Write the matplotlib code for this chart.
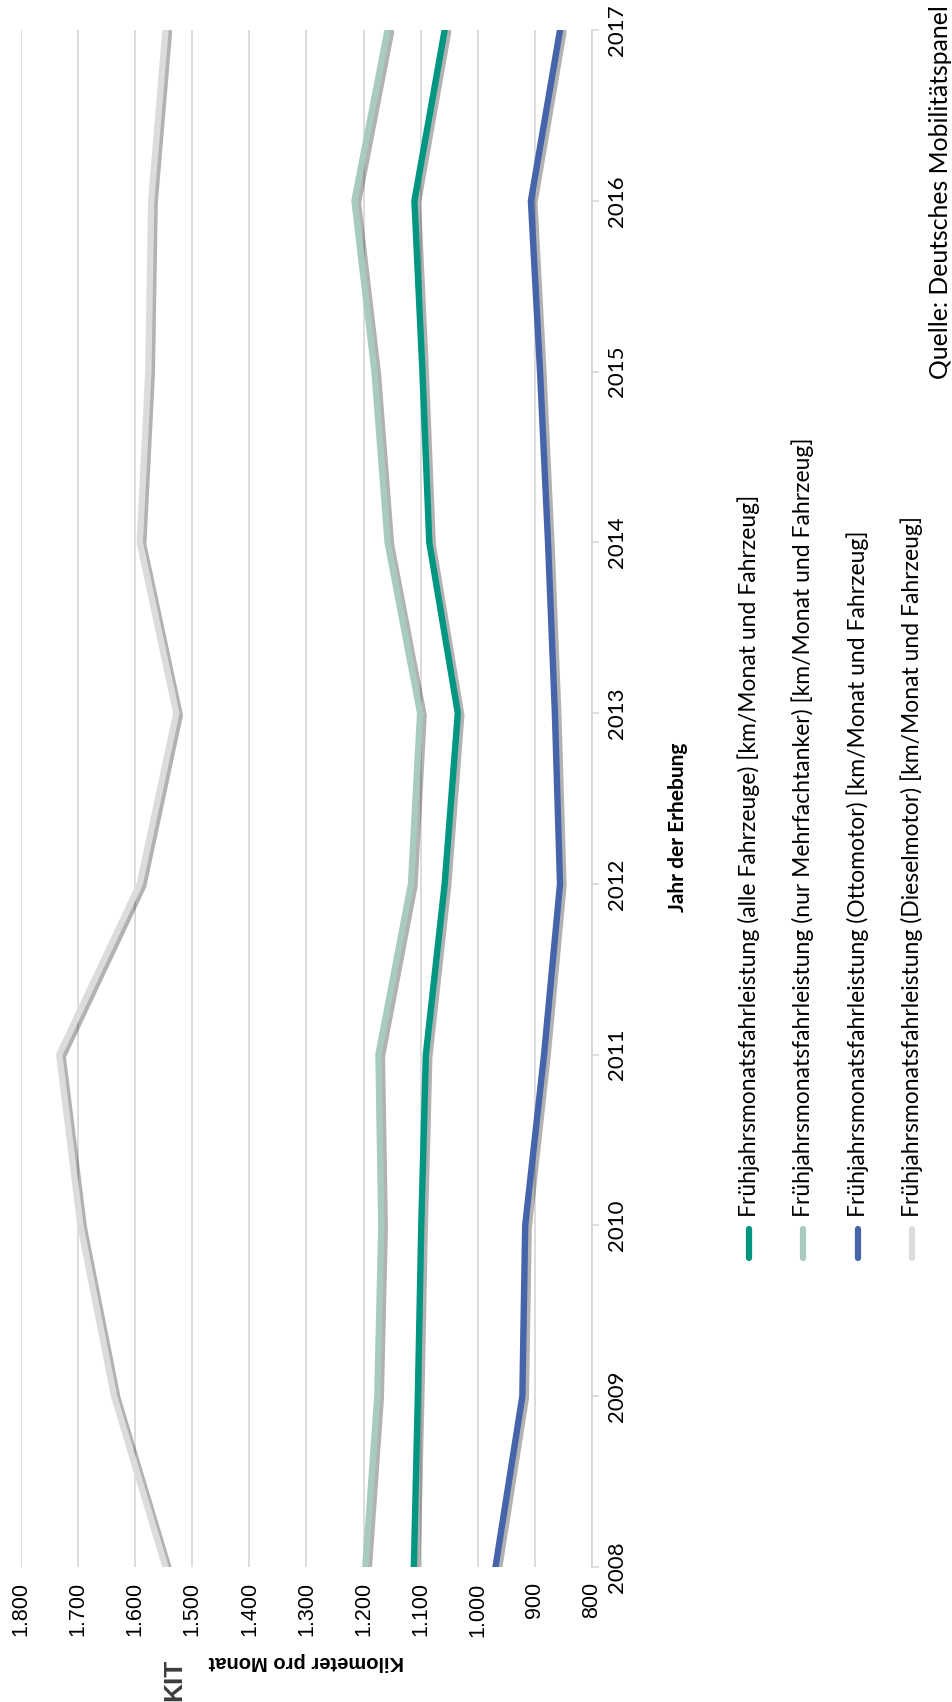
import matplotlib.pyplot as plt
import matplotlib.patheffects as pe
from matplotlib.lines import Line2D

years = [2008, 2009, 2010, 2011, 2012, 2013, 2014, 2015, 2016, 2017]
alle = [1112, 1105, 1099, 1091, 1058, 1035, 1085, 1097, 1111, 1058]
mehrfach = [1197, 1176, 1169, 1174, 1117, 1101, 1158, 1181, 1216, 1158]
otto = [969, 922, 917, 884, 856, 865, 877, 891, 907, 856]
diesel = [1547, 1637, 1696, 1733, 1592, 1528, 1592, 1577, 1572, 1547]

series_names = [
    "Frühjahrsmonatsfahrleistung (alle Fahrzeuge) [km/Monat und Fahrzeug]",
    "Frühjahrsmonatsfahrleistung (nur Mehrfachtanker) [km/Monat und Fahrzeug]",
    "Frühjahrsmonatsfahrleistung (Ottomotor) [km/Monat und Fahrzeug]",
    "Frühjahrsmonatsfahrleistung (Dieselmotor) [km/Monat und Fahrzeug]",
]
colors = ["#009682", "#a8cbbf", "#4664aa", "#dcdcdc"]

value_ticks = [800, 900, 1000, 1100, 1200, 1300, 1400, 1500, 1600, 1700, 1800]
value_labels = ["800", "900", "1.000", "1.100", "1.200", "1.300",
                "1.400", "1.500", "1.600", "1.700", "1.800"]
year_labels = [str(y) for y in years]

W, H = 952, 1702
fig = plt.figure(figsize=(W / 100, H / 100), dpi=100)
# chart is drawn turned by 90 degrees: values run right -> left, years bottom -> top
ax = fig.add_axes([21 / W, (H - 1567) / H, 571 / W, 1537 / H])

shadow = [pe.SimpleLineShadow(offset=(2.5, -1.5), shadow_color="black", alpha=0.3), pe.Normal()]
for vals, col in zip([diesel, otto, mehrfach, alle], [colors[3], colors[2], colors[1], colors[0]]):
    ax.plot(vals, years, color=col, lw=4.6, solid_capstyle="round", zorder=3, path_effects=shadow)

ax.set_xlim(1800, 800)
ax.set_ylim(2008, 2017)

ax.set_xticks(value_ticks)
ax.set_xticklabels(value_labels, rotation=90, family="Liberation Sans", fontsize=15.5, color="#000000")
ax.tick_params(axis="x", length=0, pad=11)
ax.xaxis.grid(True, color="#d9d9d9", lw=1.3, zorder=0)
ax.set_axisbelow(True)

ax.yaxis.tick_right()
ax.set_yticks(years)
ax.set_yticklabels(year_labels, rotation=90, family="Lato", fontsize=16, va="center")
ax.tick_params(axis="y", direction="out", length=5, width=1.2, color="#d9d9d9", pad=6)

for s in ["top", "left", "bottom"]:
    ax.spines[s].set_visible(False)
ax.spines["right"].set_color("#d9d9d9")
ax.spines["right"].set_linewidth(1.3)

# axis titles
fig.text(306 / W, 1 - 1661 / H, "Kilometer pro Monat", rotation=180, ha="center", va="center",
         family="Liberation Sans", fontweight="bold", fontsize=14.5)
fig.text(678 / W, 1 - 827 / H, "Jahr der Erhebung", rotation=90, ha="center", va="center",
         family="Lato", fontweight="bold", fontsize=15)

# legend, turned like the rest of the chart
leg_x = [749, 803, 858, 912]
for x, name, col in zip(leg_x, series_names, colors):
    fig.add_artist(Line2D([x / W, x / W], [1 - 1258 / H, 1 - 1229 / H], color=col, lw=4.5,
                          solid_capstyle="round"))
    fig.text(x / W, 1 - 1217 / H, name, rotation=90, ha="center", va="bottom",
             family="Lato", fontsize=16.5)

fig.text(940 / W, 1 - 5 / H, "Quelle: Deutsches Mobilitätspanel", rotation=90, ha="center", va="top",
         family="Lato", fontsize=17.8)
fig.text(174 / W, 1 - 1680 / H, "KIT", rotation=90, ha="center", va="center",
         family="Liberation Sans", fontweight="bold", fontsize=19, color="#3c3c3c")

fig.savefig("out.png", dpi=100)
